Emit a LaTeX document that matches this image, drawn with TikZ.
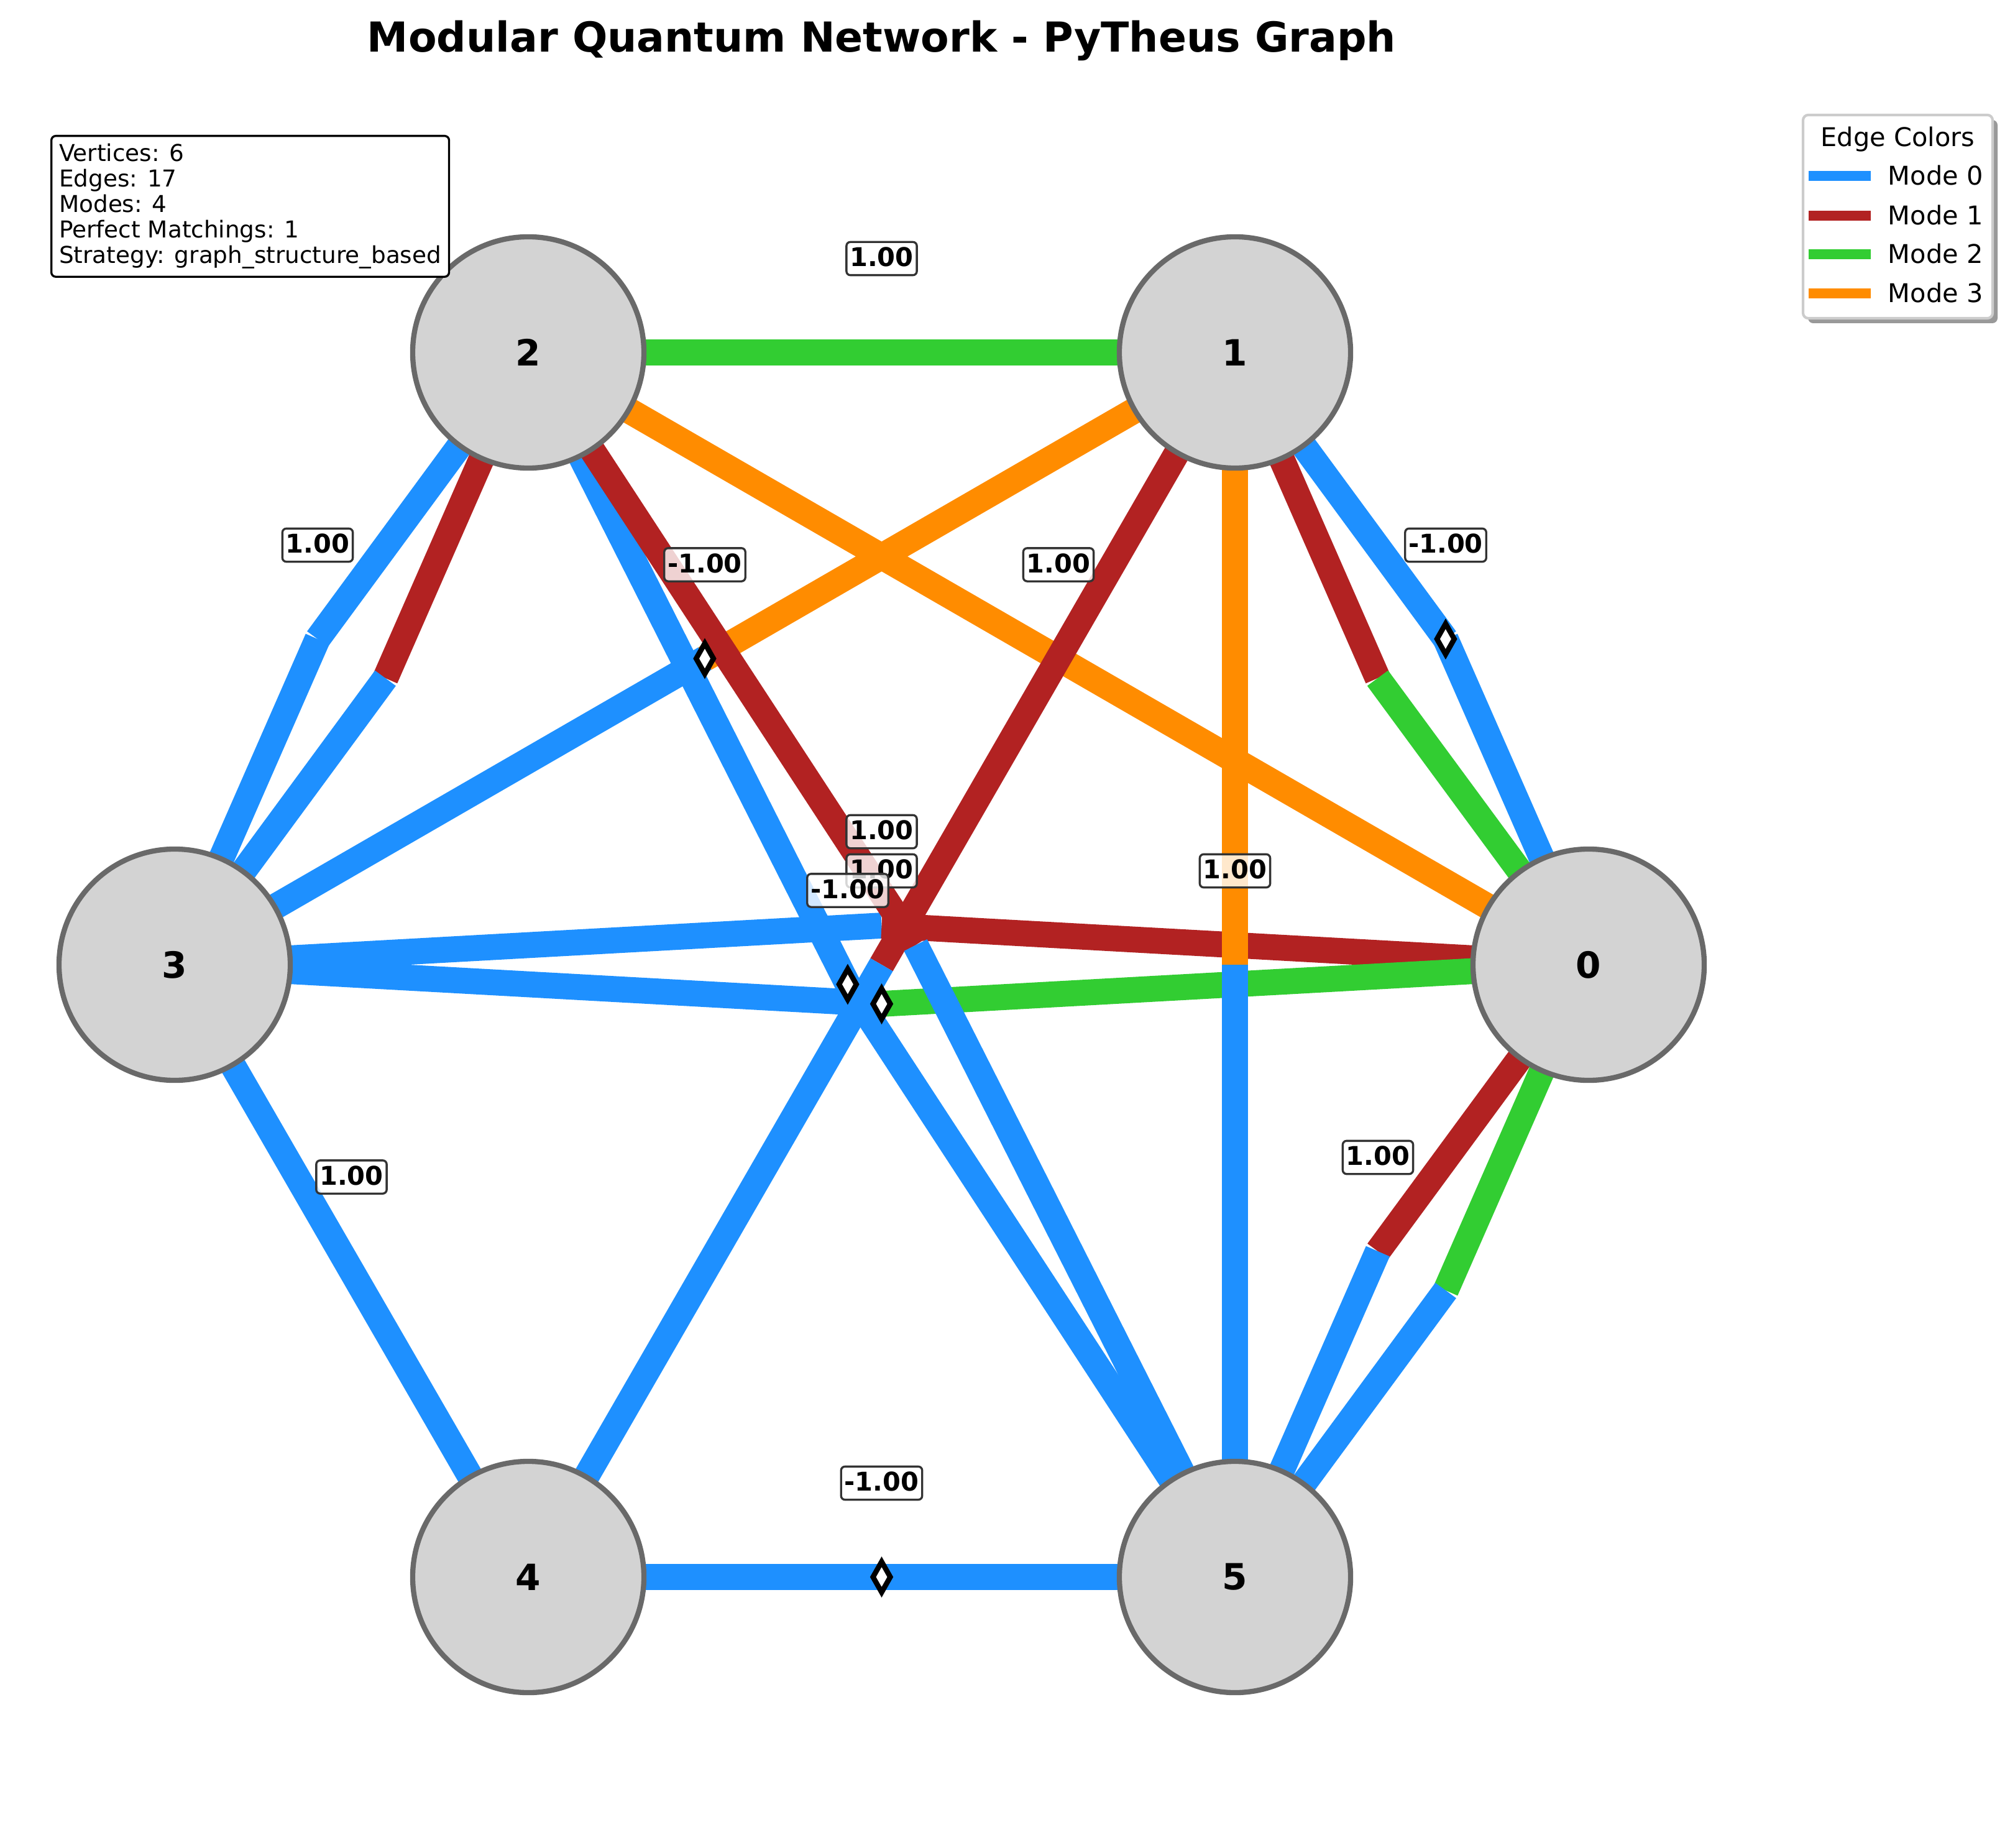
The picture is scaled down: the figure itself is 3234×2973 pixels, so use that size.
\documentclass[tikz,border=0pt]{standalone}
\usepackage{fontspec}
\setmainfont{DejaVu Sans}
\usetikzlibrary{shapes.geometric}

\definecolor{mode0}{RGB}{30,144,255}
\definecolor{mode1}{RGB}{178,34,34}
\definecolor{mode2}{RGB}{50,205,50}
\definecolor{mode3}{RGB}{255,140,0}
\definecolor{vfill}{RGB}{211,211,211}
\definecolor{vline}{RGB}{105,105,105}

\pgfdeclarelayer{edges}
\pgfsetlayers{edges,main}

\begin{document}
\begin{tikzpicture}[x=0.24bp, y=-0.24bp,
vertex/.style = { circle, draw = vline, fill = vfill, line width = 2bp, minimum size = 89.3bp,
inner sep = 0pt, font = \bfseries\fontsize{14}{16}\selectfont},
half/.style = { line width = 10bp },
weight/.style = { draw = black!80, fill = white, fill opacity = 0.8, text opacity = 1,
rounded corners = 1.5bp, line width = 0.8bp, inner xsep = 1.3bp, inner ysep = 2bp,
text height = 7.4bp, text depth = 1.4bp, font = \bfseries\fontsize{10}{12}\selectfont},
negmark/.style = { diamond, draw = black, fill = white, line width = 2bp,
minimum width = 7.5bp, minimum height = 12.6bp, inner sep = 0pt },
infobox/.style = { draw = black, fill = white, line width = 0.8bp, rounded corners = 1.7bp,
align = left, inner xsep = 3bp, inner ysep = 3bp, font = \fontsize{9}{9.9}\selectfont },
legendtext/.style = { inner sep = 0pt, font = \fontsize{10}{12}\selectfont }]
\useasboundingbox (0,0) rectangle (3234,2973);

% vertices
\node[vertex] (n0) at (2556,1552) {0};
\node[vertex] (n1) at (1987,567) {1};
\node[vertex] (n2) at (850,567) {2};
\node[vertex] (n3) at (281,1552) {3};
\node[vertex] (n4) at (850,2537) {4};
\node[vertex] (n5) at (1987,2537) {5};

% midpoints and bends
\coordinate (m13) at (1134,1059.5);
\coordinate (m15) at (1987,1552);
\coordinate (m14) at (1418.5,1552);
\coordinate (m45) at (1418.5,2537);
\coordinate (b30a) at (1418.5,1489);
\coordinate (b30b) at (1418.5,1615);
\coordinate (b25a) at (1363.9,1583.5);
\coordinate (b25b) at (1473.1,1520.5);
\coordinate (b23a) at (510.9,1028);
\coordinate (b23b) at (620.1,1091);
\coordinate (b10a) at (2325.9,1028);
\coordinate (b10b) at (2216.6,1091);
\coordinate (b05a) at (2216.9,2013);
\coordinate (b05b) at (2326.1,2076);

\begin{pgfonlayer}{edges}
\draw[half, mode2] (n2.center) -- (n1.center);
\draw[half, mode3] (n2.center) -- (n0.center);
\draw[half, mode0] (n3.center) -- (b30a);
\draw[half, mode1] (b30a) -- (n0.center);
\draw[half, mode0] (n3.center) -- (b30b);
\draw[half, mode2] (b30b) -- (n0.center);
\draw[half, mode3] (n1.center) -- (m13);
\draw[half, mode0] (m13) -- (n3.center);
\draw[half, mode3] (n1.center) -- (m15);
\draw[half, mode0] (m15) -- (n5.center);
\draw[half, mode1] (n1.center) -- (m14);
\draw[half, mode0] (m14) -- (n4.center);
\draw[half, mode0] (n2.center) -- (b25a);
\draw[half, mode0] (b25a) -- (n5.center);
\draw[half, mode1] (n2.center) -- (b25b);
\draw[half, mode0] (b25b) -- (n5.center);
\draw[half, mode0] (n2.center) -- (b23a);
\draw[half, mode0] (b23a) -- (n3.center);
\draw[half, mode1] (n2.center) -- (b23b);
\draw[half, mode0] (b23b) -- (n3.center);
\draw[half, mode0] (n1.center) -- (b10a);
\draw[half, mode0] (b10a) -- (n0.center);
\draw[half, mode1] (n1.center) -- (b10b);
\draw[half, mode2] (b10b) -- (n0.center);
\draw[half, mode0] (n3.center) -- (n4.center);
\draw[half, mode1] (n0.center) -- (b05a);
\draw[half, mode0] (b05a) -- (n5.center);
\draw[half, mode2] (n0.center) -- (b05b);
\draw[half, mode0] (b05b) -- (n5.center);
\draw[half, mode0] (n4.center) -- (n5.center);
\end{pgfonlayer}

% negative weights
\node[negmark] (d13) at (m13) {};
\node[negmark] (d10) at (b10a) {};
\node[negmark] (d25) at (b25a) {};
\node[negmark] (d30) at (b30b) {};
\node[negmark] (d45) at (m45) {};

% weight labels
\node[weight] (w21) at (1418.5,416) {1.00};
\node[weight] (w23) at (511,877) {1.00};
\node[weight] (w13) at (1134,908.5) {-1.00};
\node[weight] (w20) at (1703,908.5) {1.00};
\node[weight] (w10) at (2326,877) {-1.00};
\node[weight] (w30) at (1418.5,1338) {1.00};
\node[weight] (w14) at (1418.5,1401) {1.00};
\node[weight] (w25) at (1364,1432.5) {-1.00};
\node[weight] (w15) at (1987,1401) {1.00};
\node[weight] (w34) at (565.5,1893.5) {1.00};
\node[weight] (w05) at (2217,1862) {1.00};
\node[weight] (w45) at (1418.5,2386) {-1.00};

% title and info
\node[anchor = base, inner sep = 0pt, font = \bfseries\fontsize{16}{19}\selectfont] (title)
at (1418.5,84) {Modular Quantum Network - PyTheus Graph};
\node[infobox, anchor = north west] (info) at (81,217)
{Vertices: 6\\Edges: 17\\Modes: 4\\Perfect Matchings: 1\\Strategy: graph\_structure\_based};

% legend
\fill[black!40, rounded corners = 2bp] (2909,193) rectangle (3214,520);
\draw[draw = black!20, fill = white, line width = 1bp, rounded corners = 2bp] (2901,185) rectangle (3206,512);
\node[legendtext, anchor = base] (ltitle) at (3053.5,236) {Edge Colors};
\draw[line width = 4bp, mode0] (2910,283) -- (3010,283);
\draw[line width = 4bp, mode1] (2910,347) -- (3010,347);
\draw[line width = 4bp, mode2] (2910,409) -- (3010,409);
\draw[line width = 4bp, mode3] (2910,472) -- (3010,472);
\node[legendtext, anchor = base west] (l0) at (3037,298) {Mode 0};
\node[legendtext, anchor = base west] (l1) at (3037,362) {Mode 1};
\node[legendtext, anchor = base west] (l2) at (3037,424) {Mode 2};
\node[legendtext, anchor = base west] (l3) at (3037,487) {Mode 3};
\end{tikzpicture}
\end{document}
